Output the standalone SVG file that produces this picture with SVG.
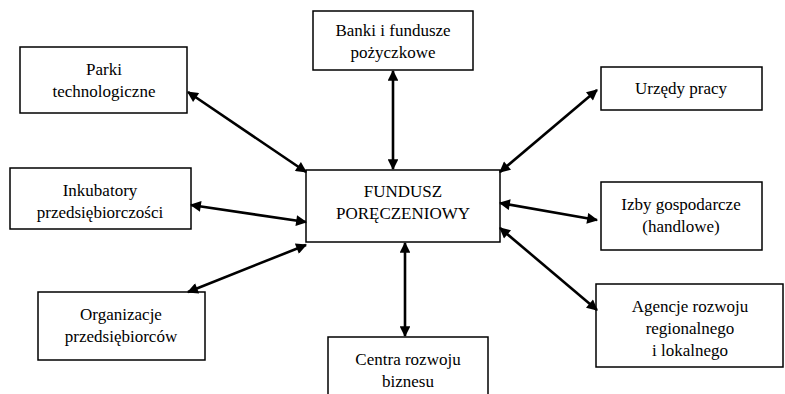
<svg xmlns="http://www.w3.org/2000/svg" width="785" height="394" viewBox="0 0 785 394">
<defs>
<style>
.box{fill:#fff;stroke:#000;stroke-width:1.5}
svg g text.t{font-family:'Liberation Serif','Times New Roman',serif !important;font-size:17px;fill:#000;text-anchor:middle}
#connectors line{stroke:#000;stroke-width:2.6;marker-start:url(#a);marker-end:url(#a)}
</style>
<marker id="a" viewBox="0 0 10 10" refX="9" refY="5" markerWidth="5.2" markerHeight="4.2" orient="auto-start-reverse" markerUnits="strokeWidth">
<path d="M0,0L10,5L0,10z" fill="#000"/>
</marker>
</defs>
<rect width="785" height="394" fill="#fff"/>
<g id="parki"><rect class="box" x="20" y="47" width="167" height="66"/><text class="t" style="font-family:'Liberation Serif',serif" x="104" y="75">Parki</text><text class="t" style="font-family:'Liberation Serif',serif" x="104" y="97">technologiczne</text></g>
<g id="banki"><rect class="box" x="313" y="11" width="160" height="59"/><text class="t" style="font-family:'Liberation Serif',serif" x="393" y="36">Banki i fundusze</text><text class="t" style="font-family:'Liberation Serif',serif" x="393" y="58">pożyczkowe</text></g>
<g id="urzedy"><rect class="box" x="601" y="67" width="161" height="43"/><text class="t" style="font-family:'Liberation Serif',serif" x="681" y="94">Urzędy pracy</text></g>
<g id="fundusz"><rect class="box" x="306" y="170" width="194" height="72"/><text class="t" style="font-family:'Liberation Serif',serif" x="403" y="197">FUNDUSZ</text><text class="t" style="font-family:'Liberation Serif',serif" x="403" y="219">PORĘCZENIOWY</text></g>
<g id="inkubatory"><rect class="box" x="10" y="168" width="181" height="61"/><text class="t" style="font-family:'Liberation Serif',serif" x="100" y="196">Inkubatory</text><text class="t" style="font-family:'Liberation Serif',serif" x="100" y="218">przedsiębiorczości</text></g>
<g id="izby"><rect class="box" x="601" y="182" width="161" height="68"/><text class="t" style="font-family:'Liberation Serif',serif" x="681" y="210">Izby gospodarcze</text><text class="t" style="font-family:'Liberation Serif',serif" x="681" y="232">(handlowe)</text></g>
<g id="organizacje"><rect class="box" x="38" y="292" width="167" height="68"/><text class="t" style="font-family:'Liberation Serif',serif" x="121" y="320">Organizacje</text><text class="t" style="font-family:'Liberation Serif',serif" x="121" y="342">przedsiębiorców</text></g>
<g id="agencje"><rect class="box" x="596" y="284" width="187" height="83"/><text class="t" style="font-family:'Liberation Serif',serif" x="690" y="312">Agencje rozwoju</text><text class="t" style="font-family:'Liberation Serif',serif" x="690" y="334">regionalnego</text><text class="t" style="font-family:'Liberation Serif',serif" x="690" y="356">i lokalnego</text></g>
<g id="centra"><path class="box" d="M328,394V337H488V394"/><text class="t" style="font-family:'Liberation Serif',serif" x="408" y="365">Centra rozwoju</text><text class="t" style="font-family:'Liberation Serif',serif" x="408" y="387">biznesu</text></g>
<g id="connectors">
<line x1="188" y1="92" x2="306" y2="172"/>
<line x1="393" y1="71" x2="393" y2="169"/>
<line x1="500" y1="172" x2="597" y2="90"/>
<line x1="191" y1="205" x2="306" y2="222"/>
<line x1="306" y1="245" x2="188" y2="292"/>
<line x1="500" y1="203" x2="597" y2="220"/>
<line x1="500" y1="228" x2="597" y2="310"/>
<line x1="405" y1="243" x2="405" y2="336"/>
</g>
</svg>
